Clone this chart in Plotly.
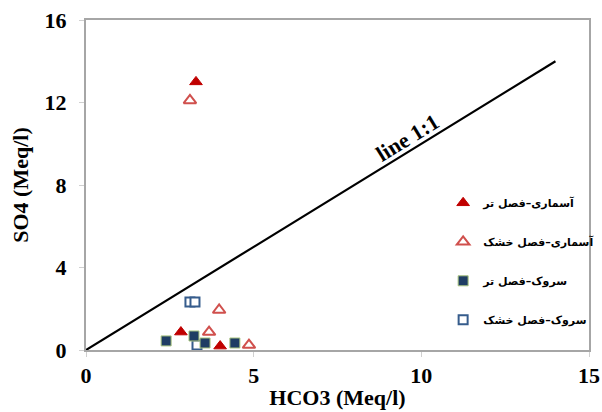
import plotly.graph_objects as go

# HCO3 vs SO4 (Meq/l) for the Asmari and Sarvak formations, wet and dry seasons
asmari_wet_hco3 = [3.28, 2.83, 4.00]
asmari_wet_so4 = [13.0, 0.87, 0.19]

asmari_dry_hco3 = [3.10, 3.97, 3.67, 4.86]
asmari_dry_so4 = [12.1, 1.94, 0.87, 0.24]

sarvak_wet_hco3 = [2.39, 3.22, 3.55, 4.44]
sarvak_wet_so4 = [0.44, 0.68, 0.34, 0.34]

sarvak_dry_hco3 = [3.10, 3.25, 3.31]
sarvak_dry_so4 = [2.33, 2.33, 0.24]

line_x = [0, 14]
line_y = [0, 14]

x_ticks = [0, 5, 10, 15]
y_ticks = [0, 4, 8, 12, 16]

FONT = "Liberation Serif, Times New Roman, DejaVu Serif, DejaVu Sans, serif"
LEGEND_FONT = "DejaVu Sans, Liberation Serif, serif"

fig = go.Figure()

fig.add_trace(go.Scatter(
    x=line_x, y=line_y, mode="lines",
    line=dict(color="black", width=2.2),
    showlegend=False, hoverinfo="skip",
))

fig.add_trace(go.Scatter(
    x=asmari_wet_hco3, y=asmari_wet_so4, mode="markers",
    name="آسماری–فصل تر", legendgroup="a", legendrank=1,
    marker=dict(symbol="triangle-up", size=11, color="#C00000",
                line=dict(color="#C00000", width=1)),
))
fig.add_trace(go.Scatter(
    x=asmari_dry_hco3, y=asmari_dry_so4, mode="markers",
    name="آسماری–فصل خشک", legendgroup="b", legendrank=2,
    marker=dict(symbol="triangle-up-open", size=11, color="#D0504D",
                line=dict(color="#D0504D", width=2)),
))
# dry-season Sarvak is drawn first so the filled squares sit on top
fig.add_trace(go.Scatter(
    x=sarvak_dry_hco3, y=sarvak_dry_so4, mode="markers",
    name="سروک–فصل خشک", legendgroup="d", legendrank=4,
    marker=dict(symbol="square", size=9, color="white",
                line=dict(color="#365C8C", width=2)),
))
fig.add_trace(go.Scatter(
    x=sarvak_wet_hco3, y=sarvak_wet_so4, mode="markers",
    name="سروک–فصل تر", legendgroup="c", legendrank=3,
    marker=dict(symbol="square", size=10, color="#1F3D64",
                line=dict(color="#A9C47F", width=1)),
))

fig.add_annotation(
    x=9.6, y=10.3, xref="x", yref="y",
    text="<b>line 1:1</b>", showarrow=False, textangle=-31.6,
    font=dict(family=FONT, size=22, color="black"),
)

fig.update_layout(
    width=602, height=412,
    margin=dict(l=86, r=13, t=20, b=62, autoexpand=False),
    paper_bgcolor="white", plot_bgcolor="white",
    font=dict(family=FONT, color="black"),
    legend=dict(
        x=0.71, y=0.49, xanchor="left", yanchor="top",
        bgcolor="rgba(0,0,0,0)",
        font=dict(family=LEGEND_FONT, size=11, color="black", weight="bold"),
        traceorder="grouped", tracegroupgap=20,
        itemwidth=30,
    ),
    xaxis=dict(
        range=[0, 15], tickvals=x_ticks,
        showgrid=False, zeroline=False,
        showline=True, linecolor="#A6A6A6", linewidth=2, mirror=True,
        ticks="outside", ticklen=5, tickcolor="#D0D0D0",
        tickfont=dict(family=FONT, size=22, weight="bold"),
        title=dict(text="<b>HCO3 (Meq/l)</b>", font=dict(family=FONT, size=22), standoff=2),
    ),
    yaxis=dict(
        range=[0, 16], tickvals=y_ticks,
        showgrid=False, zeroline=False,
        showline=True, linecolor="#A6A6A6", linewidth=2, mirror=True,
        ticks="outside", ticklen=5, tickcolor="#D0D0D0", ticklabelstandoff=8,
        tickfont=dict(family=FONT, size=22, weight="bold"),
        title=dict(text="<b>SO4 (Meq/l)</b>", font=dict(family=FONT, size=22), standoff=10),
    ),
)

fig.write_html("out.html")
